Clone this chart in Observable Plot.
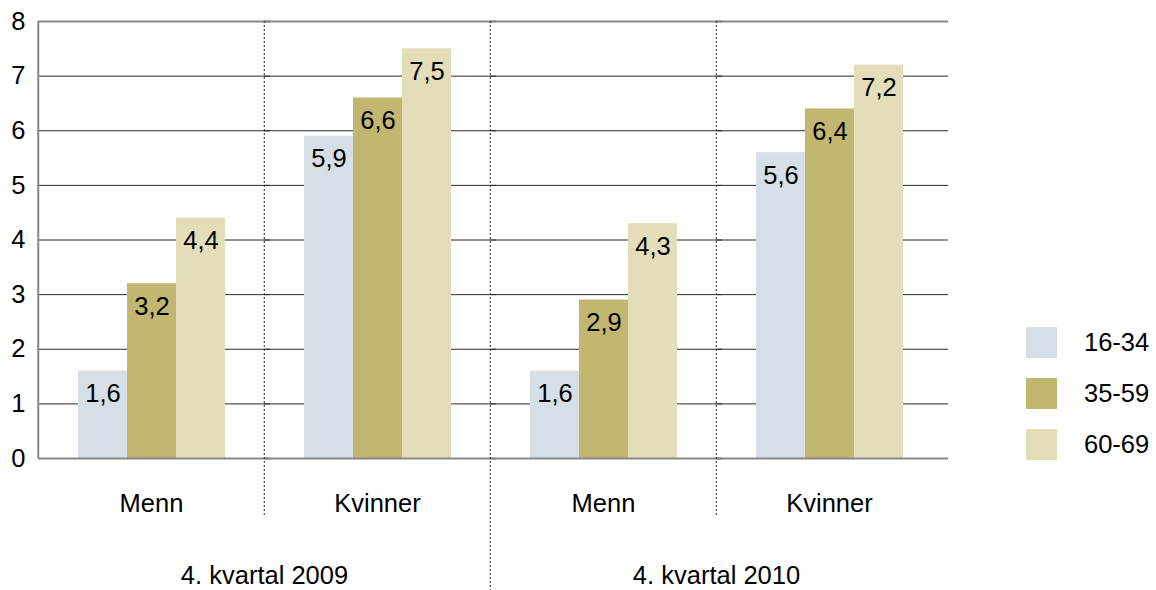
<!DOCTYPE html>
<html><head><meta charset="utf-8">
<script src="https://cdn.jsdelivr.net/npm/d3@7"></script>
<script src="https://cdn.jsdelivr.net/npm/@observablehq/plot@0.6"></script>
<style>
body{margin:0;background:#fff;}
#wrap{position:relative;width:1156px;height:590px;font-family:"Liberation Sans",Arial,sans-serif;}
#legend{position:absolute;left:1026px;top:327px;}
#legend div, #legend span{font-family:"Liberation Sans",Arial,sans-serif !important;font-size:25.5px !important;color:#000;}
#legend .lg-swatch{display:flex !important;align-items:center !important;padding-bottom:20px !important;margin:0 !important;line-height:31px;}
#legend .lg-swatch svg{margin-right:27px !important;}
</style></head><body><div id="wrap"><div id="legend"></div></div>
<script>
// ---- data ----
const periods = ["2009", "2010"];
const periodLabels = ["4. kvartal 2009", "4. kvartal 2010"];
const genders = ["Menn", "Kvinner"];
const ages = ["16-34", "35-59", "60-69"];
const values1634 = [1.6, 5.9, 1.6, 5.6];
const values3559 = [3.2, 6.6, 2.9, 6.4];
const values6069 = [4.4, 7.5, 4.3, 7.2];
const yTicks = [0, 1, 2, 3, 4, 5, 6, 7, 8];
const colors = ["#d6dfe6", "#c2b771", "#e3ddb9"];

// ---- table ----
const groups = periods.flatMap(p => genders.map(g => p + "|" + g));
const seriesValues = [values1634, values3559, values6069];
const table = [];
groups.forEach((grp, gi) => ages.forEach((age, ai) => table.push({
  group: grp, gi, ai, age,
  period: periodLabels[Math.floor(gi / genders.length)],
  gender: genders[gi % genders.length],
  value: seriesValues[ai][gi]
})));

const W = 1156, H = 590, ml = 37, mr = 213, mt = 21, mb = 132;
const bw = (W - ml - mr) / groups.length;
const font = '"Liberation Sans", Arial, sans-serif';

const chart = Plot.plot({
  width: W, height: H,
  marginLeft: ml, marginRight: mr, marginTop: mt, marginBottom: mb,
  style: {fontFamily: font, fontSize: "25.5px", color: "#000", background: "#fff", overflow: "visible"},
  facet: {data: table, x: "group"},
  fx: {domain: groups, padding: 0, axis: "bottom", tickSize: 0, tickPadding: 35, label: null,
       tickFormat: k => k.split("|")[1]},
  x: {domain: ages, paddingInner: 0, paddingOuter: 0.78, axis: null},
  y: {domain: [0, 8], ticks: yTicks, tickSize: 0, tickPadding: 13, label: null, tickFormat: d => String(d)},
  color: {domain: ages, range: colors},
  marks: [
    Plot.ruleY(yTicks.filter(t => t > 0 && t < 8), {stroke: "#2a2a2a", strokeWidth: 1, insetRight: -6}),
    Plot.barY(table, {x: "age", y: "value", fill: "age"}),
    Plot.text(table, {x: "age", y: "value", text: d => d.value.toFixed(1).replace(".", ","),
      lineAnchor: "top", dy: 13, fill: "#000"}),
    Plot.ruleY([0, 8], {stroke: "#888", strokeWidth: 2, insetRight: -6}),
    // separators
    Plot.ruleX(table, {filter: d => d.ai === 0 && d.gi % 2 === 1, x: null, dx: -bw / 2,
      insetBottom: -57, stroke: "#222", strokeWidth: 1, strokeDasharray: "2,2"}),
    Plot.ruleX(table, {filter: d => d.ai === 0 && d.gi === 2, x: null, dx: -bw / 2,
      insetBottom: -132, stroke: "#222", strokeWidth: 1, strokeDasharray: "2,2"}),
    // left axis line
    Plot.ruleX(table, {filter: d => d.ai === 0 && d.gi === 0, x: null, dx: -bw / 2,
      stroke: "#888", strokeWidth: 2}),
    // period labels
    Plot.text(table, {filter: d => d.ai === 0 && d.gi % 2 === 1, text: "period",
      frameAnchor: "bottom-left", dy: 117, textAnchor: "middle", lineAnchor: "middle", fill: "#000"})
  ]
});
document.getElementById("wrap").prepend(chart);

const legend = Plot.legend({color: {domain: ages, range: colors}, legend: "swatches",
  swatchSize: 31, columns: 1, className: "lg"});
document.getElementById("legend").appendChild(legend);
</script>
</body></html>
